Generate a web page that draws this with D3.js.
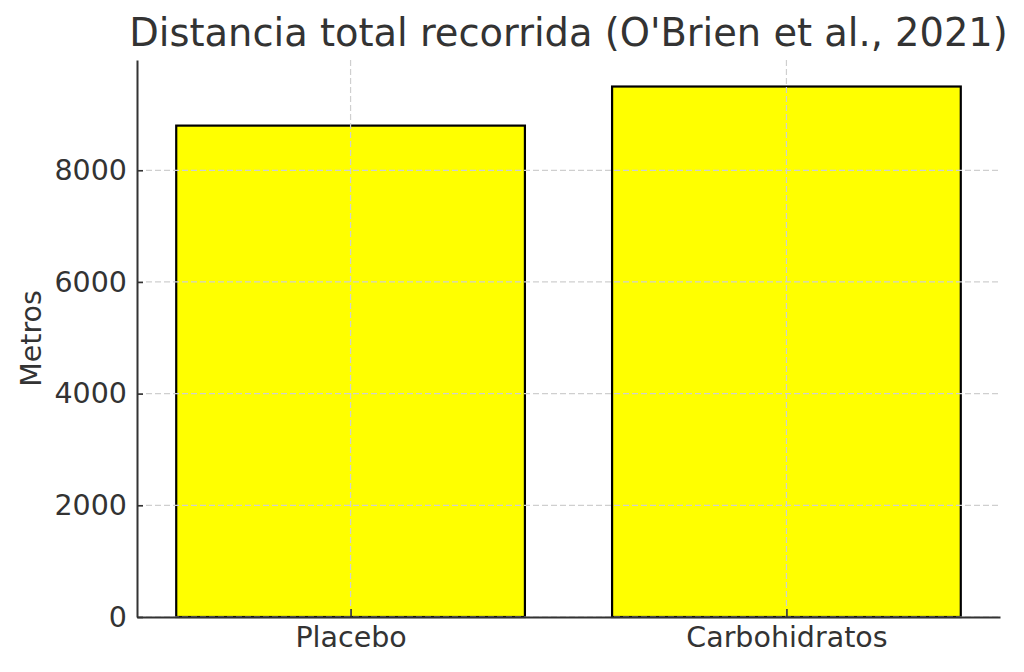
<!DOCTYPE html>
<html>
<head>
<meta charset="utf-8">
<script src="https://cdn.jsdelivr.net/npm/d3@7"></script>
<style>
  body { margin: 0; background: #fff; }
  svg { display: block; font-family: "DejaVu Sans", sans-serif; }
</style>
</head>
<body>
<svg id="chart"></svg>
<script>
// chart data
const categories = ["Placebo", "Carbohidratos"];
const values = [8800, 9500];
const yTicks = [0, 2000, 4000, 6000, 8000];
const title = "Distancia total recorrida (O'Brien et al., 2021)";
const yLabel = "Metros";

const width = 1024, height = 672;
const margin = { top: 60, right: 24, bottom: 55, left: 137 };

const svg = d3.select("#chart")
  .attr("width", width)
  .attr("height", height);

const idx = categories.map((d, i) => i);

// x as a linear scale over category index, like matplotlib's bar positions
const xScale = d3.scaleLinear()
  .domain([-0.49, categories.length - 1 + 0.49])
  .range([margin.left, width - margin.right]);

const yMax = d3.max(values) * 1.05;
const yScale = d3.scaleLinear()
  .domain([0, yMax])
  .range([height - margin.bottom, margin.top]);

const barW = xScale(0.8) - xScale(0);

// bars
svg.append("g")
  .selectAll("rect")
  .data(values)
  .enter()
  .append("rect")
  .attr("x", (d, i) => xScale(i) - barW / 2)
  .attr("y", d => yScale(d))
  .attr("width", barW)
  .attr("height", d => yScale(0) - yScale(d))
  .attr("fill", "#ffff00")
  .attr("stroke", "#000")
  .attr("stroke-width", 2.2);

// grid (drawn over the bars)
const grid = svg.append("g")
  .attr("stroke", "#cfcfcf")
  .attr("stroke-width", 1.2)
  .attr("stroke-dasharray", "6,3");

grid.selectAll(".hgrid")
  .data(yTicks)
  .enter()
  .append("line")
  .attr("x1", margin.left)
  .attr("x2", width - margin.right)
  .attr("y1", d => yScale(d))
  .attr("y2", d => yScale(d));

grid.selectAll(".vgrid")
  .data(idx)
  .enter()
  .append("line")
  .attr("x1", d => xScale(d))
  .attr("x2", d => xScale(d))
  .attr("y1", margin.top)
  .attr("y2", height - margin.bottom);

// axes
const yAxis = svg.append("g")
  .attr("transform", `translate(${margin.left},0)`)
  .call(d3.axisLeft(yScale).tickValues(yTicks).tickFormat(d3.format("d"))
    .tickSizeInner(-6).tickSizeOuter(0).tickPadding(10));

const xAxis = svg.append("g")
  .attr("transform", `translate(0,${height - margin.bottom})`)
  .call(d3.axisBottom(xScale).tickValues(idx).tickFormat(i => categories[i])
    .tickSizeInner(-8).tickSizeOuter(0).tickPadding(10));

[xAxis, yAxis].forEach(ax => {
  ax.select(".domain").attr("stroke", "#333").attr("stroke-width", 2);
  ax.selectAll(".tick line").attr("stroke", "#333").attr("stroke-width", 1.6);
  ax.selectAll("text")
    .attr("fill", "#333")
    .style("font-size", "28.5px")
    .style("font-family", "DejaVu Sans, sans-serif");
});

// title
svg.append("text")
  .attr("x", (margin.left + width - margin.right) / 2)
  .attr("y", 46)
  .attr("text-anchor", "middle")
  .attr("fill", "#333")
  .style("font-size", "38.4px")
  .text(title);

// y label
svg.append("text")
  .attr("transform", `translate(41,${(margin.top + height - margin.bottom) / 2}) rotate(-90)`)
  .attr("text-anchor", "middle")
  .attr("fill", "#333")
  .style("font-size", "28.5px")
  .text(yLabel);
</script>
</body>
</html>
